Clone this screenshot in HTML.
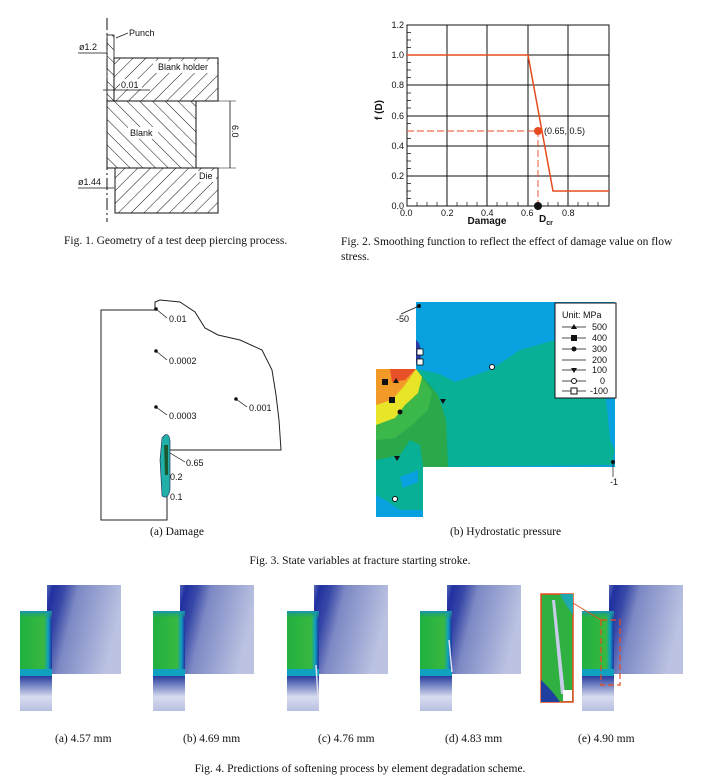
<!DOCTYPE html>
<html><head><meta charset="utf-8"><style>
html,body{margin:0;padding:0;background:#fff}
svg{display:block}
.s{font-family:"Liberation Sans",sans-serif;font-size:9px;fill:#111}
.t{font-family:"Liberation Serif",serif;font-size:11.5px;fill:#111}
</style></head><body>
<svg width="715" height="783" viewBox="0 0 715 783" xmlns="http://www.w3.org/2000/svg">
<defs>
<pattern id="h1" width="9" height="9" patternUnits="userSpaceOnUse" patternTransform="rotate(45)"><line x1="0" y1="0" x2="0" y2="9" stroke="#111" stroke-width="1"/></pattern>
<pattern id="h2" width="9" height="9" patternUnits="userSpaceOnUse" patternTransform="rotate(-45)"><line x1="0" y1="0" x2="0" y2="9" stroke="#111" stroke-width="1"/></pattern>
<linearGradient id="gb" x1="0" y1="0" x2="1" y2="0.3"><stop offset="0" stop-color="#5868b8"/><stop offset="0.08" stop-color="#2030a0"/><stop offset="0.22" stop-color="#3848a8"/><stop offset="0.4" stop-color="#7c88c4"/><stop offset="1" stop-color="#bcc3e2"/></linearGradient>
<linearGradient id="gg" x1="0" y1="0" x2="1" y2="0"><stop offset="0" stop-color="#20b040"/><stop offset="0.75" stop-color="#38b840"/><stop offset="0.88" stop-color="#10a0c0"/><stop offset="1" stop-color="#2030a0"/></linearGradient>
<linearGradient id="gt" x1="0" y1="0" x2="0" y2="1"><stop offset="0" stop-color="#1a90c0"/><stop offset="0.12" stop-color="#20b040" stop-opacity="0"/></linearGradient>
<linearGradient id="gl" x1="0" y1="0" x2="0" y2="1"><stop offset="0" stop-color="#2a3aa0"/><stop offset="0.25" stop-color="#7080c0"/><stop offset="0.6" stop-color="#d8dcf0"/><stop offset="1" stop-color="#b8c0e0"/></linearGradient>
<g id="fe">
<rect x="27" y="0" width="74" height="89" fill="url(#gb)"/>
<rect x="0" y="26" width="32" height="65" fill="url(#gg)"/>
<rect x="0" y="26" width="32" height="65" fill="url(#gt)"/>
<rect x="0" y="84" width="32" height="7" fill="#10a0c0"/>
<rect x="0" y="91" width="32" height="35" fill="url(#gl)"/>
</g>
</defs>

<!-- Fig 1 -->
<line x1="107" y1="18" x2="107" y2="222" stroke="#111" stroke-width="1" stroke-dasharray="12,3,2,3"/>
<rect x="107" y="35" width="7" height="66" fill="url(#h2)" stroke="#111" stroke-width="0.8"/>
<rect x="114" y="58" width="104" height="43" fill="url(#h1)" stroke="#111" stroke-width="1"/>
<rect x="107" y="101" width="89" height="67" fill="url(#h2)" stroke="#111" stroke-width="1"/>
<rect x="115" y="168" width="103" height="45" fill="url(#h1)" stroke="#111" stroke-width="1"/>
<rect x="153" y="61" width="64" height="12" fill="#fff"/><text class="s" x="158" y="70">Blank holder</text>
<rect x="128" y="127" width="30" height="12" fill="#fff"/><text class="s" x="130" y="136">Blank</text>
<rect x="196" y="171" width="20" height="11" fill="#fff"/><text class="s" x="199" y="179">Die</text>
<text class="s" x="129" y="36">Punch</text><path d="M128,33 L116,38" stroke="#111" stroke-width="0.7" fill="none"/>
<text class="s" x="79" y="50">ø1.2</text><line x1="78" y1="53" x2="107" y2="53" stroke="#111" stroke-width="0.8"/>
<rect x="120" y="79" width="22" height="10" fill="#fff"/><text class="s" x="121" y="88">0.01</text><line x1="103" y1="90" x2="150" y2="90" stroke="#111" stroke-width="0.8"/>
<text class="s" x="78" y="185">ø1.44</text><line x1="78" y1="188" x2="114" y2="188" stroke="#111" stroke-width="0.8"/>
<line x1="230" y1="101" x2="230" y2="168" stroke="#111" stroke-width="0.8"/>
<line x1="196" y1="101" x2="236" y2="101" stroke="#111" stroke-width="0.6"/>
<line x1="218" y1="168" x2="236" y2="168" stroke="#111" stroke-width="0.6"/>
<text class="s" transform="translate(232,125) rotate(90)">6.0</text>
<text class="t" x="64" y="244">Fig. 1. Geometry of a test deep piercing process.</text>

<!-- Fig 2 -->
<g stroke="#111" stroke-width="1">
<rect x="407" y="25" width="202" height="181" fill="none"/>
<line x1="447" y1="25" x2="447" y2="206"/><line x1="487" y1="25" x2="487" y2="206"/><line x1="528" y1="25" x2="528" y2="206"/><line x1="568" y1="25" x2="568" y2="206"/>
<line x1="407" y1="55" x2="609" y2="55"/><line x1="407" y1="85" x2="609" y2="85"/><line x1="407" y1="116" x2="609" y2="116"/><line x1="407" y1="146" x2="609" y2="146"/><line x1="407" y1="176" x2="609" y2="176"/>
</g>
<g stroke="#111" stroke-width="0.7">
<path d="M417,206v-4M427,206v-4M437,206v-4M457,206v-4M467,206v-4M477,206v-4M497,206v-4M507,206v-4M518,206v-4M538,206v-4M548,206v-4M558,206v-4M578,206v-4M588,206v-4M598,206v-4"/>
<path d="M407,32.5h4M407,40h4M407,47.5h4M407,62.5h4M407,70h4M407,77.5h4M407,93h4M407,100.5h4M407,108h4M407,123.5h4M407,131h4M407,138.5h4M407,153.5h4M407,161h4M407,168.5h4M407,183.5h4M407,191h4M407,198.5h4"/>
</g>
<g class="s" text-anchor="end" font-size="8.5">
<text x="404" y="28" class="s">1.2</text><text x="404" y="58" class="s">1.0</text><text x="404" y="88" class="s">0.8</text><text x="404" y="119" class="s">0.6</text><text x="404" y="149" class="s">0.4</text><text x="404" y="179" class="s">0.2</text><text x="404" y="209" class="s">0.0</text>
</g>
<text class="s" x="400" y="216">0.0</text><text class="s" x="441" y="216">0.2</text><text class="s" x="481" y="216">0.4</text><text class="s" x="521" y="216">0.6</text><text class="s" x="562" y="216">0.8</text>
<text class="s" style="font-size:10px;font-weight:bold" x="487" y="224" text-anchor="middle">Damage</text>
<text class="s" style="font-size:10px;font-weight:bold" transform="translate(382,110) rotate(-90)" text-anchor="middle">f (D)</text>
<text class="s" style="font-size:10px;font-weight:bold" x="539" y="222">D<tspan font-size="7" dy="3">cr</tspan></text>
<path d="M407,55 L528,55 L553,191 L609,191" stroke="#e84a20" stroke-width="1.5" fill="none"/>
<path d="M407,131 L538,131 L538,206" stroke="#e84a20" stroke-width="0.9" fill="none" stroke-dasharray="7,3"/>
<circle cx="538" cy="131" r="4" fill="#e84a20"/>
<circle cx="538" cy="206" r="4" fill="#111"/>
<text class="s" x="544" y="134">(0.65, 0.5)</text>
<text class="t" x="341" y="245">Fig. 2. Smoothing function to reflect the effect of damage value on flow</text>
<text class="t" x="341" y="260">stress.</text>

<!-- Fig 3a -->
<path d="M155,310 L101,310 L101,520 L167,520 L167,450 L281,450 L279,420 L276,395 L272,370 L262,350 L240,340 L218,335 L205,328 L195,312 L180,302 L160,300 L155,302 Z" fill="none" stroke="#222" stroke-width="1"/>
<path d="M162,438 Q168,430 170,440 L170,490 Q168,500 162,496 L160,460 Z" fill="#20b0a8" stroke="#225" stroke-width="0.6"/>
<path d="M164,445 L168,445 L168,475 L165,475 Z" fill="#1a5a30"/>
<g fill="#111"><circle cx="156" cy="309" r="1.8"/><circle cx="156" cy="351" r="1.8"/><circle cx="156" cy="407" r="1.8"/><circle cx="236" cy="399" r="1.8"/></g>
<g stroke="#111" stroke-width="0.7"><line x1="156" y1="309" x2="167" y2="318"/><line x1="156" y1="351" x2="167" y2="360"/><line x1="156" y1="407" x2="167" y2="415"/><line x1="236" y1="399" x2="247" y2="407"/><line x1="170" y1="453" x2="185" y2="462"/></g>
<text class="s" x="169" y="322">0.01</text><text class="s" x="169" y="364">0.0002</text><text class="s" x="169" y="419">0.0003</text><text class="s" x="249" y="411">0.001</text>
<text class="s" x="186" y="466">0.65</text><text class="s" x="170" y="480">0.2</text><text class="s" x="170" y="500">0.1</text>
<text class="t" x="150" y="535">(a) Damage</text>

<!-- Fig 3b -->
<path d="M416,302 L615,302 L615,467 L423,467 L423,517 L376,517 L376,369 L416,369 Z" fill="#08a0de"/>
<path d="M416,369 L440,374 L455,382 L490,370 L520,350 L555,340 L555,398 L606,398 L610,440 L615,450 L612,465 L423,467 L423,510 L400,510 L385,500 L376,495 L376,369 Z" fill="#08b096"/>
<path d="M416,369 L376,369 L376,460 L400,455 L410,440 L420,445 L423,467 L448,467 L446,420 L438,395 Z" fill="#2aa84a"/>
<path d="M416,369 L376,369 L376,440 L395,438 L412,425 L428,410 L432,392 Z" fill="#3cb84a"/>
<path d="M416,369 L376,369 L376,425 L395,418 L405,405 L418,393 L422,377 Z" fill="#e8e428"/>
<path d="M416,369 L376,369 L376,405 L392,400 L405,385 Z" fill="#f29a28"/>
<path d="M416,369 L390,369 L392,382 L405,380 Z" fill="#e85028"/>
<path d="M416,340 Q423,345 420,363 L416,363 Z" fill="#2a3aa0"/>
<path d="M400,477 L418,470 L418,482 L403,488 Z" fill="#08a0de"/>
<rect x="555" y="303" width="61" height="95" fill="#fff" stroke="#111" stroke-width="1"/>
<text class="s" x="562" y="318" font-size="8.5">Unit: MPa</text>
<g stroke="#111" stroke-width="0.8"><line x1="562" y1="327" x2="586" y2="327"/><line x1="562" y1="338" x2="586" y2="338"/><line x1="562" y1="349" x2="586" y2="349"/><line x1="562" y1="360" x2="586" y2="360"/><line x1="562" y1="370" x2="586" y2="370"/><line x1="562" y1="381" x2="586" y2="381"/><line x1="562" y1="391" x2="586" y2="391"/></g>
<path d="M574,324 L577,329 L571,329 Z" fill="#111"/><rect x="571" y="335" width="6" height="6" fill="#111"/><circle cx="574" cy="349" r="2.5" fill="#111"/><path d="M571,368 L577,368 L574,373 Z" fill="#111"/><circle cx="574" cy="381" r="2.5" fill="#fff" stroke="#111"/><rect x="571" y="388" width="6" height="6" fill="#fff" stroke="#111"/>
<g class="s" font-size="8.5"><text x="592" y="330" class="s">500</text><text x="592" y="341" class="s">400</text><text x="592" y="352" class="s">300</text><text x="592" y="363" class="s">200</text><text x="592" y="373" class="s">100</text><text x="600" y="384" class="s">0</text><text x="590" y="394" class="s">-100</text></g>
<rect x="417" y="349" width="6" height="6" fill="#fff" stroke="#111" stroke-width="0.8"/><rect x="417" y="359" width="6" height="6" fill="#fff" stroke="#111" stroke-width="0.8"/>
<rect x="382" y="379" width="6" height="6" fill="#111"/><rect x="389" y="397" width="6" height="6" fill="#111"/>
<path d="M396,378 L399,383 L393,383 Z" fill="#111"/><circle cx="400" cy="412" r="2.5" fill="#111"/>
<path d="M440,399 L446,399 L443,404 Z" fill="#111"/><path d="M394,456 L400,456 L397,461 Z" fill="#111"/>
<circle cx="492" cy="367" r="2.5" fill="#fff" stroke="#111"/><circle cx="395" cy="499" r="2.5" fill="#fff" stroke="#111"/>
<circle cx="419" cy="306" r="2" fill="#111"/><line x1="419" y1="306" x2="401" y2="314" stroke="#111" stroke-width="0.7"/><text class="s" x="396" y="322">-50</text>
<circle cx="613" cy="462" r="2" fill="#111"/><line x1="613" y1="462" x2="613" y2="477" stroke="#111" stroke-width="0.7"/><text class="s" x="610" y="485">-1</text>
<text class="t" x="450" y="535">(b) Hydrostatic pressure</text>
<text class="t" x="360" y="564" text-anchor="middle">Fig. 3. State variables at fracture starting stroke.</text>

<!-- Fig 4 -->
<use href="#fe" transform="translate(20,585)"/>
<use href="#fe" transform="translate(153,585)"/>
<use href="#fe" transform="translate(287,585)"/>
<use href="#fe" transform="translate(420,585)"/>
<use href="#fe" transform="translate(582,585)"/>
<line x1="316" y1="665" x2="318" y2="697" stroke="#dde" stroke-width="1.5"/>
<line x1="449" y1="640" x2="452" y2="672" stroke="#dde" stroke-width="1.5"/>
<rect x="541" y="594" width="32" height="108" fill="#30b040" stroke="#e84a20" stroke-width="1.5"/>
<path d="M541,594 L560,594 L566,605 L573,615 L573,602 L573,594 Z" fill="#20a8b0"/>
<path d="M555,600 L565,694 L561,694 L552,600 Z" fill="#c8cce8"/>
<path d="M541,680 Q552,690 560,702 L541,702 Z" fill="#2040a0"/>
<rect x="563" y="690" width="9" height="11" fill="#fff"/>
<rect x="601" y="620" width="19" height="65" fill="none" stroke="#e84a20" stroke-width="1.2" stroke-dasharray="6,3"/>
<line x1="573" y1="603" x2="601" y2="620" stroke="#e84a20" stroke-width="0.8"/>
<text class="t" x="55" y="742">(a) 4.57 mm</text>
<text class="t" x="183" y="742">(b) 4.69 mm</text>
<text class="t" x="318" y="742">(c) 4.76 mm</text>
<text class="t" x="445" y="742">(d) 4.83 mm</text>
<text class="t" x="578" y="742">(e) 4.90 mm</text>
<text class="t" x="360" y="772" text-anchor="middle">Fig. 4. Predictions of softening process by element degradation scheme.</text>
</svg>
</body></html>
